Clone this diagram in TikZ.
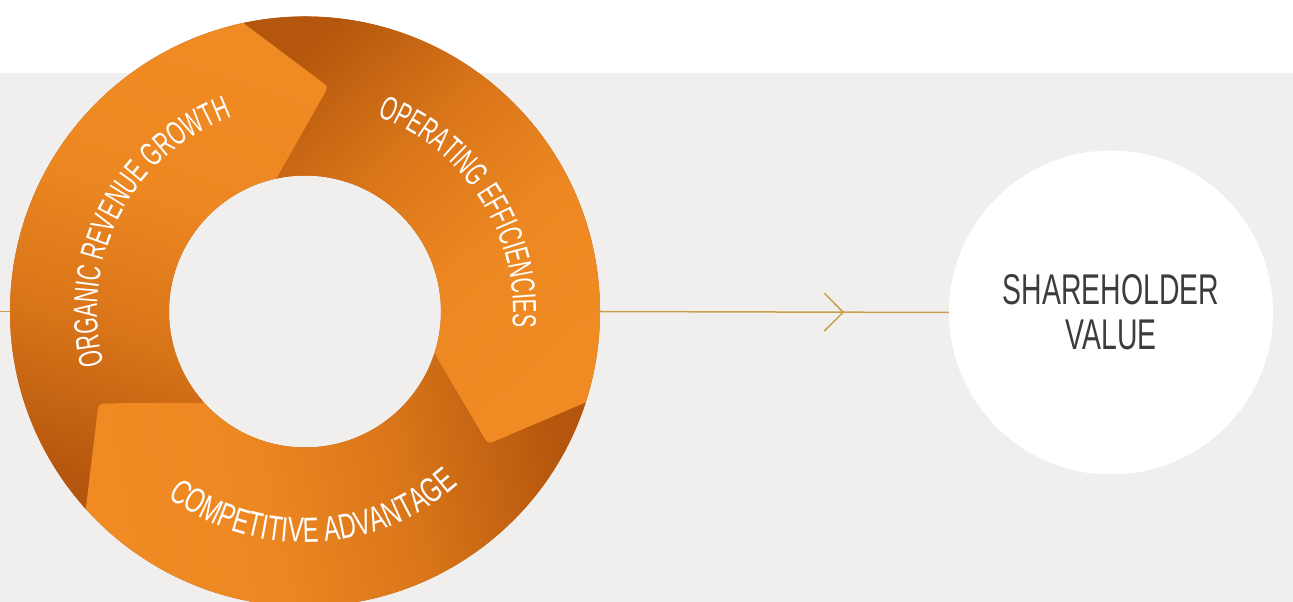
\documentclass[tikz,border=0pt]{standalone}
\usepackage{fontspec}
\usetikzlibrary{calc,decorations.text,decorations.markings}

% condensed sans faces for the labels
\newfontfamily\labelfontA[FakeStretch=0.625]{Liberation Sans}
\newfontfamily\labelfontB[FakeStretch=0.615]{Liberation Sans}
\newfontfamily\labelfontC[FakeStretch=0.68]{Liberation Sans}
\newfontfamily\valuefont[FakeStretch=0.66]{Liberation Sans}

\definecolor{bggrey}{HTML}{F0EFED}
\definecolor{ordark}{HTML}{B4560D}
\definecolor{ormid}{HTML}{D97519}
\definecolor{orlight}{HTML}{EC8721}
\definecolor{orbright}{HTML}{F08B24}
\definecolor{goldline}{HTML}{C8A04C}
\definecolor{valuegrey}{HTML}{3C3C3C}

% dark at the tail of each arrow, bright towards its head
\pgfdeclareverticalshading{arrowshade}{100bp}{%
  color(0bp)=(ordark); color(25bp)=(ordark); color(42bp)=(ormid);
  color(58bp)=(orlight); color(75bp)=(orbright); color(100bp)=(orbright)}

\tikzset{
  connector/.style={draw=goldline, line width=1.5pt},
  arrowseg/.style={shading=arrowshade},
  ringlabel/.style={decorate, decoration={text along path, text align=center, text color=white}},
}

\begin{document}
\begin{tikzpicture}[x=1pt, y=1pt]
  \useasboundingbox (0,0) rectangle (1293,602);
  % page background: white band on top, grey panel below
  \fill[white] (0,0) rectangle (1293,602);
  \fill[bggrey] (0,0) rectangle (1293,529);

  % anchor nodes
  \node[circle, minimum size=590pt, inner sep=0pt] (ring) at (305,290.5) {};
  \coordinate (lineleft) at (0,290.5);
  \node[circle, fill=white, minimum size=324pt, inner sep=0pt, align=center,
        text=valuegrey, font=\valuefont\fontsize{43}{45}\selectfont] (value) at (1111,289.5)
        {SHAREHOLDER\\VALUE};

  % connectors
  \draw[connector] (lineleft) -- (ring.west);
  \draw[connector, postaction={decorate, decoration={markings,
        mark=at position 243pt with {\draw[goldline, line width=1.5pt] (-19pt,19pt) -- (0pt,0pt) -- (-19pt,-19pt);}}}]
        (ring.east) -- (value.west);

  % the cycle of three curved arrows
  \begin{scope}[shift={(305,290.5)}]
    \fill[ordark, even odd rule] (0,0) circle[radius=295pt] (0,0) circle[radius=136pt];
    \foreach \h/\sa in {102/-18, -18/-138, 222/102} {
      \shade[arrowseg, shading angle=\sa]
        (\h+120:295) arc[start angle=\h+120, end angle=\h, radius=295pt]
        -- ($(\h-18:226)!10pt!(\h:295)$) .. controls (\h-18:226) .. ($(\h-18:226)!10pt!(\h:136)$)
        -- (\h:136) arc[start angle=\h, end angle=\h+120, radius=136pt]
        -- ($(\h+102:226)!10pt!(\h+120:136)$) .. controls (\h+102:226) .. ($(\h+102:226)!10pt!(\h+120:295)$)
        -- cycle;
    }

    % labels along the ring
    \path[ringlabel, decoration={text={|\labelfontA\fontsize{33.5}{33.5}\selectfont|ORGANIC REVENUE GROWTH}}]
      (222.6:208) arc[start angle=222.6, end angle=82.6, radius=208pt];
    \path[ringlabel, decoration={text={|\labelfontB\fontsize{33.5}{33.5}\selectfont|OPERATING EFFICIENCIES}}]
      (102.65:208) arc[start angle=102.65, end angle=-37.35, radius=208pt];
    \path[ringlabel, decoration={text={|\labelfontC\fontsize{35}{35}\selectfont|COMPETITIVE ADVANTAGE}}]
      (202.5:231) arc[start angle=202.5, end angle=342.5, radius=231pt];
  \end{scope}
\end{tikzpicture}
\end{document}
